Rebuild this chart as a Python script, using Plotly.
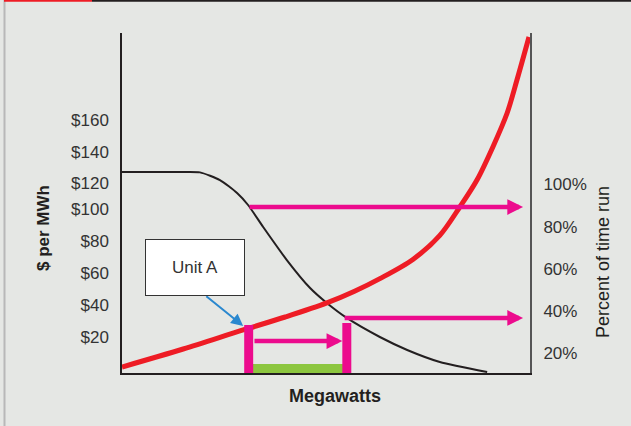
import plotly.graph_objects as go

# ---- data (x in megawatt units 0..100, y in $/MWh-scale units) ----
supply_x = [0, 15, 29.7, 40, 50.2, 57, 63.2, 71.3, 77.9, 82.8, 87.0, 90.9, 94.4, 96.8, 99.75]
supply_y = [1.25, 12.5, 24.4, 32.5, 41.3, 48.6, 56.5, 68.5, 83.5, 101.25, 118.1, 138.8, 160, 180.6, 207.5]

load_x = [0, 10, 14.2, 19.1, 24.0, 28.2, 30.9, 34.6, 40.4, 46.1, 50.2, 55.1, 63.2, 69.9, 77.9, 89.5]
load_y = [123.1, 123.1, 123.1, 122.9, 118.1, 110, 102.5, 88.75, 68.1, 50.6, 41.25, 31.9, 20, 11.9, 4.4, -1.9]

left_tickvals = [20, 40, 60, 80, 100, 116.25, 135.6, 155.6]
left_ticktext = ["$20", "$40", "$60", "$80", "$100", "$120", "$140", "$160"]
right_tickvals = [20, 40, 60, 80, 100]
right_ticktext = ["20%", "40%", "60%", "80%", "100%"]

unit_a_x = 30.9
unit_b_x = 55.4
unit_a_cost = 27.5
unit_b_cost = 28.75
upper_level = 101.25
lower_level = 31.9
mid_level = 17.5
arrow_end = 98.3

PINK = "#ec0b8d"
RED = "#ee1c25"
GREEN = "#8cc63f"
BG = "#e5e7e4"
FONT = "Liberation Sans Narrow, Arial Narrow, Liberation Sans, Arial"

fig = go.Figure()

fig.add_trace(go.Scatter(x=load_x, y=load_y, mode="lines",
                         line=dict(color="#231f20", width=2, shape="spline", smoothing=0.6),
                         hoverinfo="skip", showlegend=False))
fig.add_trace(go.Scatter(x=supply_x, y=supply_y, mode="lines",
                         line=dict(color=RED, width=5, shape="spline", smoothing=0.9),
                         hoverinfo="skip", showlegend=False, cliponaxis=False))
fig.add_trace(go.Scatter(x=[0, 100], y=[20, 20], yaxis="y2", mode="lines",
                         line=dict(width=0), hoverinfo="skip", showlegend=False, opacity=0))

shapes = []
# green band
shapes.append(dict(type="rect", xref="x", yref="y", x0=32.1, x1=54.2, y0=-2.5, y1=3.1,
                   fillcolor=GREEN, line=dict(width=0), layer="above"))
# pink vertical bars
shapes.append(dict(type="rect", xref="x", yref="y", x0=unit_a_x - 0.95, x1=unit_a_x + 1.25,
                   y0=-2.5, y1=unit_a_cost, fillcolor=PINK, line=dict(width=0), layer="above"))
shapes.append(dict(type="rect", xref="x", yref="y", x0=unit_b_x - 1.4, x1=unit_b_x + 0.8,
                   y0=-2.5, y1=unit_b_cost, fillcolor=PINK, line=dict(width=0), layer="above"))

# page decorations
def px_x(p):
    return (p - 122) / 408.0

def px_y(p):
    return (373 - p) / 340.0

shapes.append(dict(type="line", xref="paper", yref="paper", x0=px_x(4.5), x1=px_x(4.5),
                   y0=px_y(0), y1=px_y(426), line=dict(color="#b8b8b8", width=2)))
shapes.append(dict(type="line", xref="paper", yref="paper", x0=px_x(4), x1=px_x(92),
                   y0=px_y(0.8), y1=px_y(0.8), line=dict(color=RED, width=2)))
shapes.append(dict(type="line", xref="paper", yref="paper", x0=px_x(92), x1=px_x(631),
                   y0=px_y(0.8), y1=px_y(0.8), line=dict(color="#231f20", width=2)))

annotations = []

def arrow(x0, y0, x1, y1, color, width, size):
    annotations.append(dict(x=x1, y=y1, ax=x0, ay=y0, xref="x", yref="y", axref="x", ayref="y",
                            text="", showarrow=True, arrowhead=2, arrowsize=size,
                            arrowwidth=width, arrowcolor=color, standoff=0, startstandoff=0))

arrow(unit_a_x, upper_level, arrow_end, upper_level, PINK, 4.5, 0.7)
arrow(54.2, lower_level, arrow_end, lower_level, PINK, 4.5, 0.7)
arrow(32.1, mid_level, 54.0, mid_level, PINK, 4.5, 0.7)
arrow(20.3, 46.25, 29.7, 26.9, "#2a88cf", 2, 1.2)

annotations.append(dict(x=18.0, y=63.75, xref="x", yref="y", text="Unit A", showarrow=False,
                        bgcolor="white", bordercolor="#333333", borderwidth=1,
                        width=96, height=53, font=dict(family=FONT, size=17, color="#333333")))

annotations.append(dict(x=px_x(43), y=px_y(228), xref="paper", yref="paper", text="<b>$ per MWh</b>",
                        xanchor="center", yanchor="middle",
                        textangle=-90, showarrow=False, font=dict(family=FONT, size=17, color="#231f20")))
annotations.append(dict(x=px_x(603), y=px_y(262), xref="paper", yref="paper", text="Percent of time run",
                        xanchor="center", yanchor="middle",
                        textangle=-90, showarrow=False, font=dict(family=FONT, size=18, color="#231f20")))
annotations.append(dict(x=px_x(335), y=px_y(396), xref="paper", yref="paper", text="<b>Megawatts</b>",
                        xanchor="center", yanchor="middle",
                        showarrow=False, font=dict(family=FONT, size=18, color="#231f20")))

fig.update_layout(
    width=631, height=426,
    margin=dict(l=122, r=101, t=33, b=53),
    paper_bgcolor=BG, plot_bgcolor=BG,
    font=dict(family=FONT, size=17, color="#333333"),
    shapes=shapes, annotations=annotations,
    xaxis=dict(range=[0, 100], showgrid=False, zeroline=False, showticklabels=False,
               showline=True, linecolor="#231f20", linewidth=1.5, fixedrange=True),
    yaxis=dict(range=[-2.5, 210], showgrid=False, zeroline=False, tickmode="array",
               tickvals=left_tickvals, ticktext=left_ticktext, ticks="",
               ticklabelstandoff=8,
               showline=True, linecolor="#231f20", linewidth=1.5),
    yaxis2=dict(range=[10.66, 171.8], overlaying="y", side="right", showgrid=False,
                zeroline=False, tickmode="array", tickvals=right_tickvals,
                ticktext=right_ticktext, ticks="", ticklabelstandoff=8,
                showline=True, linecolor="#555555", linewidth=2),
)

fig.write_html("out.html", config={"displayModeBar": False},
               post_script="document.body.style.margin='0';")
